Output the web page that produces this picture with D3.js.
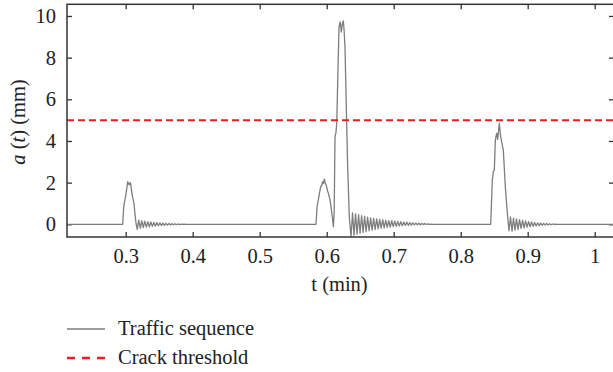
<!DOCTYPE html>
<html>
<head>
<meta charset="utf-8">
<script src="https://cdn.jsdelivr.net/npm/d3@7"></script>
<style>
  html, body { margin: 0; padding: 0; background: #fff; }
  svg { display: block; }
  text { font-family: "Liberation Serif", "Times New Roman", serif; fill: #222; }
</style>
</head>
<body>
<svg id="chart" width="613" height="372"></svg>
<script>
// Axle-load response a(t) for a sequence of passing vehicles, in mm.
const baselineStart = [[0.2124, 0], [0.2955, 0]];

const pulse1 = [
  [0.2972, 0.9], [0.2990, 1.2], [0.3000, 1.35], [0.3015, 1.7], [0.3030, 2.05],
  [0.3042, 1.95], [0.3055, 1.9], [0.3065, 2.0], [0.3075, 1.95], [0.3088, 1.6],
  [0.3100, 1.35], [0.3124, 1.0], [0.3140, 0.45], [0.3154, 0.05], [0.3173, -0.24]
];
const ring1 = [
  [0.3195, 0.20], [0.3218, -0.19], [0.3240, 0.17], [0.3263, -0.16], [0.3285, 0.15],
  [0.3308, -0.14], [0.3330, 0.13], [0.3353, -0.12], [0.3375, 0.11], [0.3398, -0.10],
  [0.3420, 0.09], [0.3443, -0.085], [0.3465, 0.08], [0.3488, -0.07], [0.3510, 0.065],
  [0.3533, -0.06], [0.3555, 0.055], [0.3578, -0.05], [0.3600, 0.045], [0.3623, -0.04],
  [0.3645, 0.035], [0.3668, -0.03], [0.3690, 0.03], [0.3713, -0.025], [0.3735, 0.02],
  [0.3758, -0.02], [0.3780, 0.015], [0.3803, -0.012], [0.3825, 0.01], [0.3848, -0.008],
  [0.3870, 0.006], [0.3900, 0], [0.5840, 0]
];

const pulse2 = [
  [0.5858, 0.9], [0.5875, 1.17], [0.5892, 1.5], [0.5910, 1.8], [0.5925, 1.85],
  [0.5940, 2.05], [0.5952, 1.95], [0.5964, 2.17], [0.5978, 2.0], [0.5990, 1.9],
  [0.6000, 1.8], [0.6012, 1.6], [0.6024, 1.5], [0.6050, 1.17], [0.6070, 0.7],
  [0.6086, 0.3], [0.6100, -0.12], [0.6112, 0.6], [0.6124, 4.2], [0.6138, 4.4],
  [0.6150, 4.84], [0.6168, 7.4], [0.6184, 9.47], [0.6200, 9.71], [0.6210, 9.5],
  [0.6218, 9.23], [0.6232, 9.6], [0.6248, 9.76], [0.6260, 9.3], [0.6273, 8.51],
  [0.6293, 5.6], [0.6313, 2.76], [0.6337, 0.36], [0.6363, -0.6]
];
const ring2 = [
  [0.6386, 0.55], [0.6408, -0.52], [0.6431, 0.50], [0.6453, -0.47], [0.6476, 0.46],
  [0.6498, -0.43], [0.6521, 0.42], [0.6543, -0.39], [0.6566, 0.38], [0.6588, -0.35],
  [0.6611, 0.34], [0.6633, -0.31], [0.6656, 0.31], [0.6678, -0.28], [0.6701, 0.28],
  [0.6723, -0.25], [0.6746, 0.26], [0.6768, -0.22], [0.6791, 0.24], [0.6813, -0.19],
  [0.6836, 0.22], [0.6858, -0.17], [0.6881, 0.20], [0.6903, -0.15], [0.6926, 0.18],
  [0.6948, -0.13], [0.6971, 0.17], [0.6993, -0.11], [0.7016, 0.15], [0.7038, -0.10],
  [0.7061, 0.14], [0.7083, -0.08], [0.7106, 0.12], [0.7128, -0.07], [0.7151, 0.11],
  [0.7173, -0.06], [0.7196, 0.10], [0.7218, -0.05], [0.7241, 0.08], [0.7263, -0.04],
  [0.7286, 0.07], [0.7308, -0.03], [0.7331, 0.06], [0.7353, -0.025], [0.7376, 0.05],
  [0.7398, -0.02], [0.7421, 0.04], [0.7443, -0.015], [0.7466, 0.03], [0.7488, -0.01],
  [0.7511, 0.02], [0.7533, -0.005], [0.7556, 0.01], [0.7590, 0], [0.8448, 0]
];

const pulse3 = [
  [0.8472, 2.13], [0.8487, 2.53], [0.8502, 2.6], [0.8517, 4.04], [0.8537, 4.37],
  [0.8552, 4.08], [0.8566, 4.5], [0.8576, 4.85], [0.8587, 4.5], [0.8597, 4.2],
  [0.8616, 3.88], [0.8636, 3.56], [0.8666, 1.8], [0.8696, 0.53], [0.8721, -0.31]
];
const ring3 = [
  [0.8743, 0.36], [0.8766, -0.33], [0.8788, 0.30], [0.8811, -0.28], [0.8833, 0.26],
  [0.8856, -0.24], [0.8878, 0.22], [0.8901, -0.20], [0.8923, 0.19], [0.8946, -0.17],
  [0.8968, 0.16], [0.8991, -0.14], [0.9013, 0.13], [0.9036, -0.12], [0.9058, 0.11],
  [0.9081, -0.10], [0.9103, 0.09], [0.9126, -0.08], [0.9148, 0.07], [0.9171, -0.065],
  [0.9193, 0.06], [0.9216, -0.05], [0.9238, 0.045], [0.9261, -0.04], [0.9283, 0.035],
  [0.9306, -0.03], [0.9328, 0.025], [0.9351, -0.02], [0.9373, 0.015], [0.9396, -0.01],
  [0.9418, 0.008], [0.9441, -0.005], [0.9470, 0]
];
const baselineEnd = [[1.0288, 0]];

const crackThreshold = 5;

const xTicks = [0.3, 0.4, 0.5, 0.6, 0.7, 0.8, 0.9, 1.0];
const yTicks = [0, 2, 4, 6, 8, 10];
const xDomain = [0.2124, 1.0288];
const yDomain = [-0.61, 10.56];

const legendLabels = ["Traffic sequence", "Crack threshold"];

const traffic = [].concat(baselineStart, pulse1, ring1, pulse2, ring2, pulse3, ring3, baselineEnd);

// Layout
const SERIF = '"Liberation Serif", "Times New Roman", serif';
const plot = { left: 67, right: 614, top: 4.3, bottom: 237 };
const svg = d3.select("#chart");

const x = d3.scaleLinear().domain(xDomain).range([plot.left, plot.right]);
const y = d3.scaleLinear().domain(yDomain).range([plot.bottom, plot.top]);

svg.append("defs").append("clipPath").attr("id", "plot-clip")
  .append("rect")
  .attr("x", plot.left).attr("y", plot.top)
  .attr("width", plot.right - plot.left).attr("height", plot.bottom - plot.top);

const fmtX = d => (d === 1 ? "1" : d3.format(".1f")(d));

// Bottom axis with labels, ticks pointing inward
const gx = svg.append("g")
  .attr("transform", `translate(0,${plot.bottom})`)
  .call(d3.axisBottom(x).tickValues(xTicks).tickFormat(fmtX)
    .tickSizeInner(-5).tickSizeOuter(0).tickPadding(11));
// Top axis, ticks only
const gxt = svg.append("g")
  .attr("transform", `translate(0,${plot.top})`)
  .call(d3.axisTop(x).tickValues(xTicks).tickFormat("")
    .tickSizeInner(-5).tickSizeOuter(0));
// Left axis with labels
const gy = svg.append("g")
  .attr("transform", `translate(${plot.left},0)`)
  .call(d3.axisLeft(y).tickValues(yTicks).tickFormat(d3.format("d"))
    .tickSizeInner(-5).tickSizeOuter(0).tickPadding(11));
// Right axis, ticks only
const gyr = svg.append("g")
  .attr("transform", `translate(${plot.right},0)`)
  .call(d3.axisRight(y).tickValues(yTicks).tickFormat("")
    .tickSizeInner(-5).tickSizeOuter(0));

[gx, gxt, gy, gyr].forEach(g => {
  g.attr("font-family", SERIF).attr("font-size", 20.5);
  g.select(".domain").remove();
  g.selectAll(".tick line").attr("stroke", "#333").attr("stroke-width", 1.3);
  g.selectAll(".tick text")
    .style("font-family", SERIF)
    .style("font-size", "20.5px").attr("fill", "#222");
});

// Traffic response curve
svg.append("path")
  .datum(traffic)
  .attr("clip-path", "url(#plot-clip)")
  .attr("fill", "none")
  .attr("stroke", "#7d7d7d")
  .attr("stroke-width", 1.3)
  .attr("stroke-linejoin", "round")
  .attr("d", d3.line().x(d => x(d[0])).y(d => y(d[1])));

// Crack threshold
svg.append("line")
  .attr("x1", plot.left).attr("x2", plot.right)
  .attr("y1", y(crackThreshold)).attr("y2", y(crackThreshold))
  .attr("stroke", "#ee1c25")
  .attr("stroke-width", 2)
  .attr("stroke-dasharray", "7,4");

// Frame
svg.append("rect")
  .attr("x", plot.left).attr("y", plot.top)
  .attr("width", plot.right - plot.left).attr("height", plot.bottom - plot.top)
  .attr("fill", "none").attr("stroke", "#333").attr("stroke-width", 1.5);

// Axis titles
svg.append("text")
  .attr("x", (plot.left + plot.right) / 2 - 1).attr("y", 291)
  .attr("text-anchor", "middle")
  .style("font-size", "20.5px")
  .text("t (min)");

const yt = svg.append("text")
  .attr("transform", "translate(25,122) rotate(-90)")
  .attr("text-anchor", "middle")
  .style("font-size", "20.5px");
yt.append("tspan").style("font-style", "italic").text("a");
yt.append("tspan").text(" (");
yt.append("tspan").style("font-style", "italic").text("t");
yt.append("tspan").text(") (mm)");

// Legend
const legend = svg.append("g");
const legendRows = [
  { label: legendLabels[0], y: 329, stroke: "#7d7d7d", width: 1.3, dash: null },
  { label: legendLabels[1], y: 358, stroke: "#ee1c25", width: 2.5, dash: "8,7" }
];
legendRows.forEach(r => {
  legend.append("line")
    .attr("x1", 67).attr("x2", 105).attr("y1", r.y).attr("y2", r.y)
    .attr("stroke", r.stroke).attr("stroke-width", r.width)
    .attr("stroke-dasharray", r.dash);
  legend.append("text")
    .attr("x", 118).attr("y", r.y + 6)
    .style("font-size", "20.5px")
    .text(r.label);
});
</script>
</body>
</html>
